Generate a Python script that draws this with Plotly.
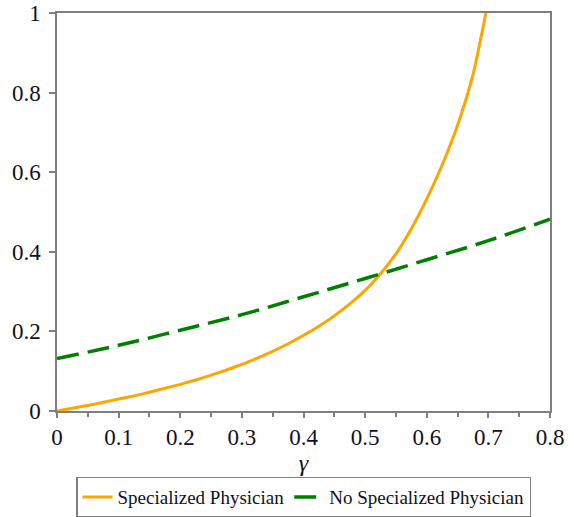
import plotly.graph_objects as go

gamma_spec = [0, 0.025, 0.05, 0.075, 0.1, 0.125, 0.15, 0.175, 0.2, 0.225, 0.25, 0.275, 0.3, 0.325,
              0.35, 0.375, 0.4, 0.425, 0.45, 0.475, 0.5, 0.525, 0.55, 0.575, 0.6, 0.625, 0.65, 0.675, 0.696]
spec_vals = [0, 0.007, 0.014, 0.022, 0.030, 0.038, 0.047, 0.057, 0.067, 0.078, 0.090, 0.103, 0.117, 0.133,
             0.150, 0.169, 0.190, 0.213, 0.239, 0.269, 0.303, 0.345, 0.395, 0.458, 0.533, 0.618, 0.718, 0.845, 1.0]

gamma_nospec = [0, 0.1, 0.2, 0.3, 0.4, 0.5, 0.6, 0.7, 0.8]
nospec_vals = [0.132, 0.165, 0.203, 0.242, 0.287, 0.333, 0.38, 0.428, 0.482]

x_ticks = [0, 0.1, 0.2, 0.3, 0.4, 0.5, 0.6, 0.7, 0.8]
x_labels = ["0", "0.1", "0.2", "0.3", "0.4", "0.5", "0.6", "0.7", "0.8"]
y_ticks = [0, 0.2, 0.4, 0.6, 0.8, 1]
y_labels = ["0", "0.2", "0.4", "0.6", "0.8", "1"]

serif = "'Liberation Serif', 'Times New Roman', 'DejaVu Serif', serif"
axis_gray = "#7f7f7f"
text_col = "#101020"

fig = go.Figure()
fig.add_trace(go.Scatter(
    x=gamma_spec, y=spec_vals, mode="lines", name="Specialized Physician",
    line=dict(color="#FFA500", width=3, shape="spline", smoothing=0.6),
))
fig.add_trace(go.Scatter(
    x=gamma_nospec, y=nospec_vals, mode="lines", name="No Specialized Physician",
    line=dict(color="#008000", width=3.5, dash="22px,9px", shape="spline", smoothing=1),
))

fig.update_layout(
    width=574, height=517,
    margin=dict(l=57, r=24, t=13, b=106, autoexpand=False),
    paper_bgcolor="white", plot_bgcolor="white",
    font=dict(family=serif, color=text_col),
    showlegend=True,
    legend=dict(
        orientation="h", x=0.5, xanchor="center", y=-0.165, yanchor="top",
        bordercolor=axis_gray, borderwidth=1.5,
        font=dict(family=serif, size=19, color=text_col),
        itemwidth=30, tracegroupgap=0,
    ),
)
fig.update_xaxes(
    range=[0, 0.8], tickvals=x_ticks, ticktext=x_labels, automargin=False,
    showgrid=False, zeroline=False,
    showline=True, linecolor=axis_gray, linewidth=1.5, mirror=True,
    ticks="outside", ticklen=5, tickwidth=1.5, tickcolor=axis_gray,
    minor=dict(dtick=0.05, ticks="outside", ticklen=4, tickwidth=1.5, tickcolor=axis_gray, showgrid=False),
    tickfont=dict(family=serif, size=23, color=text_col),
    title=dict(text="<i>γ</i>", font=dict(family=serif, size=24, color=text_col), standoff=4),
)
fig.update_yaxes(
    range=[0, 1], tickvals=y_ticks, ticktext=y_labels, automargin=False,
    showgrid=False, zeroline=False,
    showline=True, linecolor=axis_gray, linewidth=1.5, mirror=True,
    ticks="outside", ticklen=6, tickwidth=1.5, tickcolor=axis_gray,
    ticklabelstandoff=4,
    tickfont=dict(family=serif, size=23, color=text_col),
)

fig.write_html(
    "out.html",
    config={"displayModeBar": False},
    post_script="document.body.style.margin='0';document.body.style.overflow='hidden';",
)
